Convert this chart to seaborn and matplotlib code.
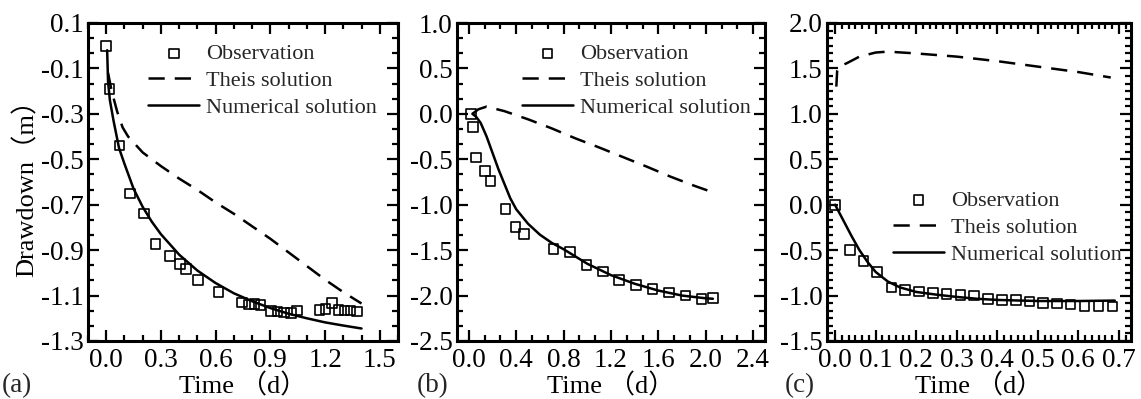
import numpy as np
import pandas as pd
import matplotlib
matplotlib.use("Agg")
import matplotlib.pyplot as plt
from matplotlib.ticker import FixedLocator, AutoMinorLocator, FormatStrFormatter
import seaborn as sns

# --- Panel (a) ---
obs_a_t = [0.0, 0.018, 0.073, 0.129, 0.206, 0.27, 0.348, 0.403, 0.436, 0.504, 0.615,
           0.746, 0.783, 0.814, 0.847, 0.902, 0.939, 0.976, 1.013, 1.046,
           1.169, 1.202, 1.237, 1.274, 1.307, 1.339, 1.374]
obs_a_s = [0.0, -0.19, -0.44, -0.65, -0.738, -0.873, -0.926, -0.96, -0.983, -1.032, -1.083,
           -1.13, -1.139, -1.136, -1.142, -1.168, -1.17, -1.175, -1.178, -1.165,
           -1.164, -1.16, -1.134, -1.164, -1.166, -1.166, -1.17]
theis_a_t = [0.01, 0.03, 0.06, 0.09, 0.12, 0.2, 0.3, 0.4, 0.5, 0.6, 0.7, 0.8, 0.9,
             1.0, 1.1, 1.2, 1.3, 1.4]
theis_a_s = [-0.12, -0.2, -0.29, -0.36, -0.40, -0.47, -0.53, -0.585, -0.635, -0.69,
             -0.74, -0.795, -0.85, -0.91, -0.97, -1.03, -1.085, -1.135]
num_a_t = [0.005, 0.01, 0.02, 0.04, 0.07, 0.1, 0.15, 0.2, 0.25, 0.3, 0.4, 0.5, 0.6,
           0.7, 0.8, 0.9, 1.0, 1.1, 1.2, 1.3, 1.4]
num_a_s = [-0.02, -0.16, -0.24, -0.33, -0.45, -0.52, -0.63, -0.71, -0.775, -0.83,
           -0.92, -0.99, -1.045, -1.09, -1.125, -1.155, -1.18, -1.20, -1.218, -1.232, -1.245]
xticks_a = [0.0, 0.3, 0.6, 0.9, 1.2, 1.5]
yticks_a = [-1.3, -1.1, -0.9, -0.7, -0.5, -0.3, -0.1, 0.1]

# --- Panel (b) ---
obs_b_t = [0.02, 0.034, 0.061, 0.134, 0.184, 0.31, 0.394, 0.465, 0.715, 0.852, 0.992,
           1.13, 1.27, 1.41, 1.55, 1.69, 1.83, 1.965, 2.06]
obs_b_s = [0.0, -0.147, -0.48, -0.628, -0.738, -1.046, -1.248, -1.32, -1.49, -1.523,
           -1.662, -1.735, -1.827, -1.882, -1.926, -1.966, -2.0, -2.036, -2.03]
theis_b_t = [0.03, 0.08, 0.15, 0.3, 0.5, 0.7, 0.9, 1.1, 1.3, 1.5, 1.7, 1.9, 2.03]
theis_b_s = [0.0, 0.05, 0.08, 0.03, -0.06, -0.16, -0.27, -0.37, -0.475, -0.58,
             -0.69, -0.79, -0.85]
num_b_t = [0.03, 0.06, 0.1, 0.15, 0.2, 0.25, 0.3, 0.35, 0.4, 0.5, 0.6, 0.7, 0.8,
           1.0, 1.2, 1.4, 1.6, 1.8, 2.0, 2.06]
num_b_s = [0.0, -0.03, -0.10, -0.25, -0.43, -0.61, -0.77, -0.93, -1.05, -1.21, -1.33,
           -1.42, -1.49, -1.65, -1.775, -1.87, -1.945, -2.0, -2.03, -2.035]
xticks_b = [0.0, 0.4, 0.8, 1.2, 1.6, 2.0, 2.4]
yticks_b = [-2.5, -2.0, -1.5, -1.0, -0.5, 0.0, 0.5, 1.0]

# --- Panel (c) ---
obs_c_t = [0.0, 0.036, 0.07, 0.104, 0.139, 0.173, 0.207, 0.242, 0.275, 0.309, 0.343,
           0.377, 0.412, 0.446, 0.48, 0.513, 0.548, 0.581, 0.615, 0.65, 0.684]
obs_c_s = [0.0, -0.497, -0.618, -0.743, -0.912, -0.937, -0.956, -0.974, -0.985, -0.992,
           -1.0, -1.036, -1.047, -1.047, -1.066, -1.084, -1.088, -1.098, -1.113, -1.113, -1.12]
theis_c_t = [0.003, 0.005, 0.01, 0.03, 0.06, 0.1, 0.13, 0.2, 0.3, 0.4, 0.5, 0.6, 0.68]
theis_c_s = [1.30, 1.47, 1.52, 1.56, 1.63, 1.675, 1.685, 1.665, 1.63, 1.58, 1.52, 1.46, 1.40]
num_c_t = [0.0, 0.02, 0.04, 0.06, 0.08, 0.1, 0.13, 0.16, 0.2, 0.25, 0.3, 0.35, 0.4,
           0.5, 0.6, 0.69]
num_c_s = [0.0, -0.17, -0.34, -0.50, -0.63, -0.74, -0.845, -0.91, -0.96, -0.99, -1.015,
           -1.035, -1.048, -1.06, -1.06, -1.055]
xticks_c = [0.0, 0.1, 0.2, 0.3, 0.4, 0.5, 0.6, 0.7]
yticks_c = [-1.5, -1.0, -0.5, 0.0, 0.5, 1.0, 1.5, 2.0]

panel_tags = ["(a)", "(b)", "(c)"]
legend_labels = ["Observation", "Theis solution", "Numerical solution"]

sns.set_theme(style="ticks")
plt.rcParams["font.family"] = ["Liberation Serif", "Noto Sans CJK SC"]
plt.rcParams["axes.unicode_minus"] = False

fig = plt.figure(figsize=(11.41, 3.99), dpi=100)

# axes boxes in figure fractions (left, bottom, width, height)
boxes = [
    (88 / 1141, 58 / 399, 310 / 1141, 318 / 399),
    (457 / 1141, 58 / 399, 308 / 1141, 318 / 399),
    (827 / 1141, 58 / 399, 304 / 1141, 318 / 399),
]

panels = [
    dict(obs=(obs_a_t, obs_a_s), theis=(theis_a_t, theis_a_s), num=(num_a_t, num_a_s),
         xlim=(-0.1, 1.6), ylim=(-1.3, 0.1), xt=xticks_a, yt=yticks_a, xminor=3, yminor=3,
         leg=(0.194, 0.935)),
    dict(obs=(obs_b_t, obs_b_s), theis=(theis_b_t, theis_b_s), num=(num_b_t, num_b_s),
         xlim=(-0.1, 2.5), ylim=(-2.5, 1.0), xt=xticks_b, yt=yticks_b, xminor=3, yminor=3,
         leg=(0.211, 0.935)),
    dict(obs=(obs_c_t, obs_c_s), theis=(theis_c_t, theis_c_s), num=(num_c_t, num_c_s),
         xlim=(-0.02, 0.73), ylim=(-1.5, 2.0), xt=xticks_c, yt=yticks_c, xminor=6, yminor=6,
         leg=(0.217, 0.473)),
]

for i, (p, box) in enumerate(zip(panels, boxes)):
    ax = fig.add_axes(box)
    ax.set_facecolor("white")

    sns.scatterplot(x=p["obs"][0], y=p["obs"][1], ax=ax, marker="s", s=48,
                    facecolors="none", edgecolors="black", linewidths=1.2,
                    label=legend_labels[0], zorder=3)
    sns.lineplot(x=p["theis"][0], y=p["theis"][1], ax=ax, color="black", lw=1.8,
                 sort=False, estimator=None, label=legend_labels[1])
    ax.lines[-1].set_dashes((6.5, 4))
    sns.lineplot(x=p["num"][0], y=p["num"][1], ax=ax, color="black", lw=1.8,
                 sort=False, estimator=None, label=legend_labels[2])

    ax.set_xlim(*p["xlim"])
    ax.set_ylim(*p["ylim"])
    ax.xaxis.set_major_locator(FixedLocator(p["xt"]))
    ax.yaxis.set_major_locator(FixedLocator(p["yt"]))
    ax.xaxis.set_minor_locator(AutoMinorLocator(p["xminor"]))
    ax.yaxis.set_minor_locator(AutoMinorLocator(p["yminor"]))
    ax.xaxis.set_major_formatter(FormatStrFormatter("%.1f"))
    ax.yaxis.set_major_formatter(FormatStrFormatter("%.1f"))

    ax.tick_params(which="both", direction="in", top=True, right=True,
                   colors="black", labelsize=19.5, width=1.6)
    ax.tick_params(which="major", length=8)
    ax.tick_params(which="minor", length=4)
    ax.tick_params(axis="x", pad=5)
    ax.tick_params(axis="y", pad=3)
    for sp in ax.spines.values():
        sp.set_linewidth(2.2)
        sp.set_color("black")
        sp.set_visible(True)

    ax.set_xlabel("Time （d）", fontsize=19, labelpad=0, color="black")
    if i == 0:
        ax.set_ylabel("Drawdown（m）", fontsize=19, labelpad=2, color="black")
    else:
        ax.set_ylabel("")
    ax.grid(False)

    handles, labels = ax.get_legend_handles_labels()
    order = [labels.index(l) for l in legend_labels]
    ax.legend([handles[k] for k in order], legend_labels, loc="upper left",
              bbox_to_anchor=p["leg"], frameon=False, fontsize=16,
              borderpad=0, borderaxespad=0, handlelength=2.3, handletextpad=0.3,
              labelspacing=0.28, scatterpoints=1)

tag_x = [2 / 1141, 417 / 1141, 785 / 1141]
for tag, tx in zip(panel_tags, tag_x):
    fig.text(tx, 1 - 386 / 399, tag, fontsize=19.5, va="center", ha="left")

fig.savefig("out.png", dpi=100)
